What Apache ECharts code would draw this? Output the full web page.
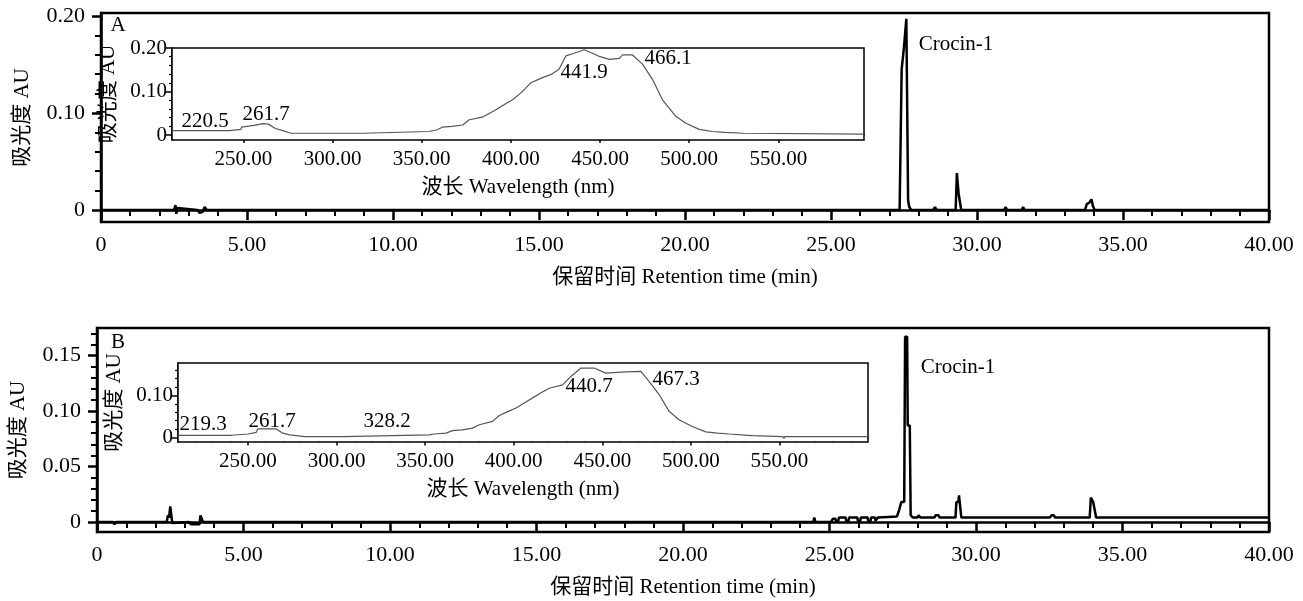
<!DOCTYPE html>
<html>
<head>
<meta charset="utf-8">
<script src="https://cdn.jsdelivr.net/npm/echarts@6/dist/echarts.min.js"></script>
<style>
  html, body { margin: 0; padding: 0; background: #fff; }
  #chart { width: 1303px; height: 601px; }
</style>
</head>
<body>
<div id="chart"></div>
<script>
// chromatogram A (retention time in min, absorbance in AU)
const chromA_time = [0, 2.50, 2.55, 2.58, 2.62, 2.66, 3.30, 3.38, 3.48, 3.55, 3.62,
  27.35, 27.42, 27.47, 27.50, 27.56, 27.58, 27.62, 27.64, 27.68, 27.75,
  28.50, 28.56, 28.62, 29.27, 29.31, 29.35, 29.37, 29.42, 29.46,
  30.93, 30.98, 31.03, 31.53, 31.58, 31.63, 33.70, 33.76, 33.86, 33.92, 33.97, 34.03, 40];
const chromA_abs = [0, 0, 0.005, -0.004, 0.002, 0, 0, -0.003, -0.002, 0.003, 0,
  0, 0.145, 0.147, 0.168, 0.170, 0.197, 0.197, 0.010, 0.003, 0,
  0, 0.003, 0, 0, 0.038, 0.038, 0.017, 0.015, 0,
  0, 0.003, 0, 0, 0.003, 0, 0, 0.006, 0.008, 0.011, 0.004, 0, 0];

// chromatogram B
const chromB_time = [0, 0.55, 0.60, 0.65, 2.38, 2.42, 2.46, 2.50, 2.54, 2.57, 2.62,
  3.15, 3.20, 3.50, 3.53, 3.58, 3.62, 24.45, 24.48, 24.52,
  25.05, 25.12, 25.20, 25.22, 25.30, 25.32, 25.55, 25.57, 25.65, 25.67, 25.95, 25.97,
  26.05, 26.07, 26.30, 26.32, 26.40, 26.42, 26.55, 26.57, 26.62, 26.65,
  27.30, 27.38, 27.45, 27.55, 27.58, 27.65, 27.67, 27.74, 27.77, 27.85,
  28.00, 28.04, 28.10, 28.58, 28.62, 28.72, 28.76, 29.30, 29.33, 29.40, 29.42, 29.47, 29.50,
  32.52, 32.58, 32.66, 32.70, 33.88, 33.92, 33.98, 34.00, 34.05, 34.10, 40];
const chromB_abs = [0, 0, -0.002, 0, 0, 0.006, 0.004, 0.014, 0.014, -0.001, 0,
  0, -0.002, -0.002, 0.006, 0.006, 0, 0, 0.004, 0,
  0, 0.003, 0.003, 0.001, 0.001, 0.004, 0.004, 0.001, 0.001, 0.004, 0.004, 0.001,
  0.001, 0.004, 0.004, 0.001, 0.001, 0.004, 0.004, 0.001, 0.001, 0.004,
  0.005, 0.011, 0.018, 0.018, 0.167, 0.167, 0.087, 0.087, 0.006, 0.004,
  0.004, 0.006, 0.004, 0.004, 0.006, 0.006, 0.004, 0.004, 0.018, 0.018, 0.024, 0.024, 0.004,
  0.004, 0.006, 0.006, 0.004, 0.004, 0.022, 0.022, 0.018, 0.018, 0.004, 0.004];

// UV-vis spectrum of peak A (wavelength nm, absorbance AU)
const specA_nm = [210, 242, 243, 248.7, 249, 256, 261, 264, 268, 272, 276.7, 317, 317.5, 354,
  358.7, 361.5, 367, 373, 376.7, 384, 391.6, 398, 401, 406, 411.2, 417.8, 423, 427, 430.9,
  435.5, 441.1, 445.8, 450, 455.2, 460.8, 462.6, 468.2, 473.8, 479.4, 485, 492.5, 498.1,
  505.6, 513, 520, 530.5, 531, 531.5, 598];
const specA_abs = [0.010, 0.010, 0.013, 0.013, 0.018, 0.022, 0.026, 0.025, 0.015, 0.010, 0.004, 0.004, 0.008, 0.008,
  0.012, 0.018, 0.020, 0.023, 0.035, 0.041, 0.058, 0.074, 0.081, 0.098, 0.120, 0.132, 0.140, 0.151, 0.182,
  0.188, 0.196, 0.188, 0.180, 0.174, 0.176, 0.184, 0.184, 0.163, 0.128, 0.081, 0.043, 0.027,
  0.013, 0.008, 0.006, 0.004, 0.000, 0.002, 0.002];

// UV-vis spectrum of peak B
const specB_nm = [210.5, 240.6, 241, 250, 250.5, 254.7, 255.5, 266, 269.7, 273.5, 282, 303.6, 304, 352.4,
  355, 361.8, 365.4, 371, 376.7, 380.6, 388.1, 391.9, 396, 401.3, 406, 410.7, 415, 420, 427.6,
  432.3, 438, 445.4, 452, 463.3, 471.8, 476.4, 482.1, 487.7, 493.3, 500.8, 508.4, 515, 521.5,
  534.7, 552, 552.5, 553, 600];
const specB_abs = [0.005, 0.005, 0.008, 0.008, 0.012, 0.012, 0.020, 0.020, 0.010, 0.006, 0.002, 0.002, 0.006, 0.006,
  0.008, 0.010, 0.016, 0.018, 0.022, 0.030, 0.038, 0.052, 0.060, 0.070, 0.082, 0.094, 0.105, 0.117, 0.125,
  0.145, 0.165, 0.165, 0.153, 0.156, 0.157, 0.133, 0.102, 0.062, 0.042, 0.026, 0.013, 0.010, 0.008,
  0.004, 0.002, -0.003, 0.002, 0.002];

// tick values
const mainYTicksA = [0, 0.1, 0.2];
const mainYMinorA = [0.02, 0.04, 0.06, 0.08, 0.12, 0.14, 0.16, 0.18];
const mainYTicksB = [0, 0.05, 0.1, 0.15];
const mainYMinorB = [0.01, 0.02, 0.03, 0.04, 0.06, 0.07, 0.08, 0.09, 0.11, 0.12, 0.13, 0.14, 0.16, 0.17];
const insetXTicks = [250, 300, 350, 400, 450, 500, 550];
const insetXMinor = [220, 230, 240, 260, 270, 280, 290, 310, 320, 330, 340, 360, 370, 380, 390,
  410, 420, 430, 440, 460, 470, 480, 490, 510, 520, 530, 540, 560, 570, 580, 590];
const insetYTicksA = [0, 0.1, 0.2];
const insetYTicksB = [0, 0.1];
const insetYMinor = [0.02, 0.04, 0.06, 0.08, 0.12, 0.14, 0.16, 0.18];

// peak labels
const peakLabelsA = ['220.5', '261.7', '441.9', '466.1'];
const peakLabelsB = ['219.3', '261.7', '328.2', '440.7', '467.3'];
const peakName = 'Crocin-1';

const FONT = '"Liberation Serif", "Times New Roman", "Noto Sans CJK SC", serif';
const zip = (a, b) => a.map((v, i) => [v, b[i]]);
const fmt = (v) => (v === 0 ? '0' : v.toFixed(2));
const txt = { color: '#000', fontFamily: FONT, fontSize: 22 };
const txtS = { color: '#000', fontFamily: FONT, fontSize: 21 };

const myChart = echarts.init(document.getElementById('chart'));

const mainGrid = (left, top, bottom) => ({
  left, top, bottom, right: 34, show: true, borderColor: '#000', borderWidth: 2.5,
});
const insetGrid = (left, top, right, bottom) => ({
  left, top, right, bottom, show: true, borderColor: '#000', borderWidth: 1.5,
  backgroundColor: '#fff', z: 3,
});

const mainX = (gridIndex) => ({
  type: 'value', gridIndex, min: 0, max: 40, interval: 5,
  name: '保留时间 Retention time (min)', nameLocation: 'middle', nameGap: 45,
  nameTextStyle: txtS,
  axisLine: { lineStyle: { color: '#000', width: 2.5 } },
  axisTick: { length: 10, lineStyle: { color: '#000', width: 2.5 } },
  minorTick: { show: true, splitNumber: 5, length: 6, lineStyle: { color: '#000', width: 2 } },
  axisLabel: { ...txt, margin: 12, formatter: fmt },
  splitLine: { show: false },
});
const mainY = (gridIndex, min, max, ticks) => ({
  type: 'value', gridIndex, min, max,
  name: '吸光度 AU', nameLocation: 'middle', nameGap: 68, nameRotate: 90,
  nameTextStyle: txtS,
  axisLine: { lineStyle: { color: '#000', width: 2.5 } },
  axisTick: { length: 9, customValues: ticks, lineStyle: { color: '#000', width: 2.5 } },
  axisLabel: { ...txt, margin: 16, customValues: ticks, formatter: fmt },
  splitLine: { show: false },
});
const minorY = (gridIndex, min, max, ticks, len, w) => ({
  type: 'value', gridIndex, min, max, position: 'left',
  axisLine: { show: false },
  axisTick: { length: len, customValues: ticks, lineStyle: { color: '#000', width: w } },
  axisLabel: { show: false },
  splitLine: { show: false },
});
const insetX = (gridIndex, min, max) => ({
  type: 'value', gridIndex, min, max,
  name: '波长 Wavelength (nm)', nameLocation: 'middle', nameGap: 37,
  nameTextStyle: txtS,
  axisLine: { lineStyle: { color: '#000', width: 1.5 } },
  axisTick: { length: 8, customValues: insetXTicks, lineStyle: { color: '#000', width: 1.5 } },
  axisLabel: { ...txtS, margin: 9, customValues: insetXTicks, formatter: fmt },
  splitLine: { show: false },
});
const minorX = (gridIndex, min, max) => ({
  type: 'value', gridIndex, min, max, position: 'bottom',
  axisLine: { show: false },
  axisTick: { length: 5, customValues: insetXMinor, lineStyle: { color: '#000', width: 1.5 } },
  axisLabel: { show: false },
  splitLine: { show: false },
});
const insetY = (gridIndex, min, max, ticks) => ({
  type: 'value', gridIndex, min, max,
  name: '吸光度 AU', nameLocation: 'middle', nameGap: 33, nameRotate: 90,
  nameTextStyle: txtS,
  axisLine: { lineStyle: { color: '#000', width: 1.5 } },
  axisTick: { length: 6, customValues: ticks, lineStyle: { color: '#000', width: 1.5 } },
  axisLabel: { ...txtS, margin: 5, customValues: ticks, formatter: fmt },
  splitLine: { show: false },
});

const chromLine = (xAxisIndex, yAxisIndex, data) => ({
  type: 'line', xAxisIndex, yAxisIndex, data, showSymbol: false, z: 2,
  lineStyle: { color: '#000', width: 2.5 }, animation: false,
});
const specLine = (xAxisIndex, yAxisIndex, data) => ({
  type: 'line', xAxisIndex, yAxisIndex, data, showSymbol: false, z: 4,
  lineStyle: { color: '#555', width: 1.2 }, animation: false,
});

// label placements (px)
const labelPosA = [[205, 121], [266, 114], [584, 72], [668, 58]];
const labelPosB = [[203, 424], [272, 421], [387, 421], [589, 386], [676, 379]];
const textAt = (s, x, y) => ({
  type: 'text', z: 10, x, y,
  style: { text: s, fill: '#000', font: '21px ' + FONT, textAlign: 'center', textVerticalAlign: 'middle' },
});

myChart.setOption({
  animation: false,
  grid: [
    mainGrid(101, 13, 379),
    insetGrid(172, 48, 439, 461),
    mainGrid(97, 328, 69),
    insetGrid(178, 363, 435, 159),
  ],
  xAxis: [
    mainX(0),
    insetX(1, 210, 598),
    minorX(1, 210, 598),
    mainX(2),
    insetX(3, 210.5, 600),
    minorX(3, 210.5, 600),
  ],
  yAxis: [
    mainY(0, -0.0124, 0.203, mainYTicksA),
    minorY(0, -0.0124, 0.203, mainYMinorA, 6, 2),
    insetY(1, -0.0115, 0.2, insetYTicksA),
    minorY(1, -0.0115, 0.2, insetYMinor, 3, 1.2),
    mainY(2, -0.009, 0.1748, mainYTicksB),
    minorY(2, -0.009, 0.1748, mainYMinorB, 6, 2),
    insetY(3, -0.011, 0.177, insetYTicksB),
    minorY(3, -0.011, 0.177, insetYMinor, 3, 1.2),
  ],
  series: [
    chromLine(0, 0, zip(chromA_time, chromA_abs)),
    specLine(1, 2, zip(specA_nm, specA_abs)),
    chromLine(3, 4, zip(chromB_time, chromB_abs)),
    specLine(4, 6, zip(specB_nm, specB_abs)),
  ],
  graphic: [
    textAt('A', 118, 25),
    textAt('B', 118, 342),
    textAt(peakName, 956, 44),
    textAt(peakName, 958, 367),
    ...peakLabelsA.map((s, i) => textAt(s, labelPosA[i][0], labelPosA[i][1])),
    ...peakLabelsB.map((s, i) => textAt(s, labelPosB[i][0], labelPosB[i][1])),
  ],
});
</script>
</body>
</html>
